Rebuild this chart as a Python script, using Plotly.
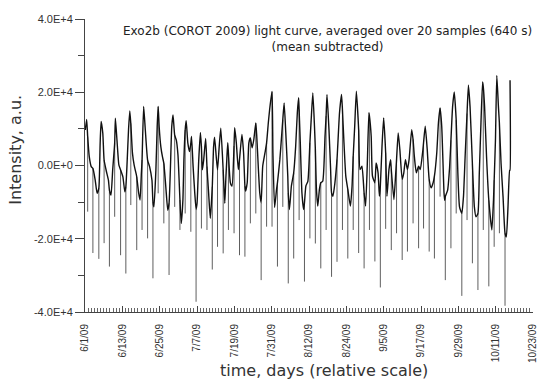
import plotly.graph_objects as go

# ---------------- data ----------------
# time axis: days after 6/1/09 ; intensity values in units of 1e3 (a.u.)
curve_day = [
    0.1, 0.53, 1.37, 2.0, 3.28, 3.9, 4.87, 5.18, 5.72, 6.9, 7.53, 8.36, 8.9, 9.76, 10.27,
    10.9, 12.18, 12.81, 13.57, 13.99, 14.4, 15.26, 15.8, 16.53, 17.27, 17.7, 18.12, 18.85,
    19.39, 20.76, 21.52, 22.16, 22.79, 23.2, 23.84, 24.38, 24.89, 25.97, 26.6, 27.44, 27.88,
    28.29, 29.34, 29.88, 30.94, 31.47, 31.79, 32.52, 33.06, 33.6, 34.24, 34.75, 35.29, 36.02,
    36.56, 37.1, 37.73, 38.15, 38.78, 39.74, 40.28, 41.33, 41.65, 42.18, 43.13, 43.65, 44.93,
    45.3, 45.6, 45.88, 46.73, 47.26, 48.11, 48.64, 49.28, 50.44, 50.97, 51.61, 52.14, 52.67,
    53.73, 54.26, 55.21, 55.74, 56.17, 57.12, 57.86, 58.92, 59.35, 60.4, 60.94, 61.57, 62.63,
    63.27, 64.01, 64.54, 65.18, 65.71, 66.34, 67.72, 68.25, 68.67, 69.2, 69.73, 70.26, 71.0,
    71.64, 72.7, 73.23, 73.76, 74.39, 74.82, 75.35, 76.41, 77.15, 77.79, 78.42, 78.95, 79.69,
    80.33, 81.81, 82.45, 83.19, 83.83, 85.31, 85.84, 86.69, 87.22, 88.39, 89.02, 90.19, 90.72,
    91.25, 91.99, 92.4, 93.57, 94.2, 94.63, 95.47, 96.0, 97.06, 97.7, 98.23, 99.29, 99.82,
    100.67, 101.2, 102.47, 103.0, 104.17, 105.01, 105.86, 106.5, 107.77, 108.51, 109.36,
    110.0, 111.27, 111.9, 113.07, 113.6, 114.66, 115.4, 115.61, 116.56, 117.2, 118.15,
    118.68, 119.85, 120.38, 121.65, 122.18, 123.24, 123.77, 125.15, 125.68, 126.74, 127.27,
    127.8, 128.44, 129.07, 130.77, 131.3, 131.93, 132.36, 132.89, 133.74, 134.37, 135.43,
    135.96, 136.49, 136.6, 136.62,
]
curve_val_k = [
    9.7, 12.6, 2.4, -0.3, -4.0, -7.6, 6.1, 12.0, 8.8, -1.7, -4.0, -8.1, -1.2, 12.9, 7.0,
    0.1, -3.1, -7.2, 1.5, 9.7, 14.9, 3.3, 0.1, -2.6, -7.6, -9.4, -2.1, 16.1,
    9.7, -0.3, -4.0, -11.3, -1.2, 10.6, 10.6, 5.1, 2.4, -5.8, -12.2, -1.2, 10.6,
    13.8, 7.0, 2.9, -15.8, -9.4, 1.5, 12.2, 6.1, 3.8, 7.9, -0.3, -7.6, -10.3,
    1.5, 9.0, -1.2, 1.5, 7.4, -7.6, -14.4, 5.1, 7.7, 2.4, 5.1, 10.2, -10.3,
    -3.0, 2.0, 6.2, -4.7, -5.6, 10.3, 6.2, -1.1, 8.5, 3.5, -7.0, -4.7, 6.2,
    4.8, 7.1, 8.0, -1.1, -7.5, -0.2, 3.5, 11.6, 15.3, 3.5, -11.5, -6.5, 1.6,
    8.9, 17.1, 8.9, -2.9, -12.0, -5.6, 5.3, 14.4, 18.5, 6.2, -7.5, -12.0, -5.6,
    -4.3, 12.5, 19.8, 10.7, -6.5, -11.1, -6.5, -4.3, 8.0, 19.4, 9.8, -1.1, -8.4,
    -4.7, 14.4, 19.4, 7.1, -2.9, -11.1, -5.6, 10.7, 20.3, -1.1, -0.2, -11.1, -0.2,
    14.4, 8.0, -2.9, 0.7, -2.0, -8.4, 5.3, 13.0, -8.4, -1.1, 1.6, -9.3, -2.9,
    8.9, 4.4, -2.0, 1.6, 1.6, 9.8, 2.5, -2.0, -1.1, 3.5, 10.7,
    4.4, -6.1, -4.7, 3.5, 11.6, 10.7, -7.5, -9.5, -6.7, -0.4, 16.0,
    20.1, -2.2, -11.3, -8.5, 2.4, 21.9, 16.0, -11.3, -14.0, -2.2, 11.5,
    22.8, 16.0, 2.4, -17.6, -9.5, 6.9, 24.6, 16.0, 0.5, -8.5, -19.5,
    -11.3, -1.3, -1.3, 23.3,
]

# planetary transits (sharp dips): time, level where the dip starts, bottom of the dip
transit_day = [
    0.86, 2.54, 4.45, 6.14, 7.85, 9.54, 11.44, 13.13, 14.72, 16.63, 18.34, 20.12, 21.84,
    23.52, 25.34, 27.02, 28.83, 30.52, 32.2, 34.02, 35.7, 37.42, 39.2, 40.91, 42.6, 44.41,
    46.1, 47.91, 49.66, 51.4, 53.15, 54.9, 56.62, 58.37, 60.12, 61.86, 63.58, 65.33, 67.08,
    68.82, 70.54, 72.29, 74.04, 75.79, 77.5, 79.25, 81.0, 82.75, 84.47, 86.21, 87.96, 89.71,
    91.43, 93.18, 94.93, 96.64, 98.45, 100.14, 101.95, 103.64, 105.45, 107.23, 108.82,
    110.63, 112.31, 114.13, 115.81, 117.62, 119.31, 121.12, 122.8, 124.52, 126.3, 128.02,
    129.8, 131.52, 133.2, 135.01,
]
transit_top_k = [
    7.9, -0.8, -6.2, 1.5, -6.7, 6.1, -1.2, -5.8, 11.5, -3.1, 1.5, 1.5, -10.0,
    16.1, 0.6, -10.3, 8.3, -9.4, 9.7, 6.1, -12.0, 5.1, -0.3, -5.8, -1.2, -1.2,
    3.5, 5.3, 1.6, -5.6, 7.5, 11.6, -10.2, 6.2, 20.2, -4.7, 12.5, -7.5, -2.0,
    15.3, -10.2, 6.2, 4.4, -4.7, 13.5, -7.5, 1.6, 15.3, -6.5, 2.5, 9.8, -7.5,
    13.5, -4.7, -5.6, 3.5, -1.1, 1.6, -3.8, -1.1, 7.1, -0.2, 6.2,
    -3.8, -2.9, 15.7, -8.5, 6.9, 12.4, -13.1, 14.2, 0.5, -13.1, 21.5,
    -9.5, -4.0, 11.5, -18.5,
]
transit_bottom_k = [
    -12.6, -23.9, -25.5, -21.2, -27.6, -14.0, -24.5, -29.5, -10.8, -23.1, -17.6, -19.9, -30.8,
    -7.6, -15.8, -29.9, -11.3, -17.6, -13.1, -18.1, -37.2, -17.2, -17.6, -28.4, -22.2, -24.0,
    -17.6, -18.5, -24.5, -24.9, -15.8, -13.1, -31.3, -16.7, -16.7, -27.6, -11.3, -32.2, -25.4,
    -14.9, -31.7, -19.9, -21.3, -28.1, -17.6, -30.4, -26.3, -17.6, -25.4, -17.6, -23.9, -28.1,
    -17.6, -26.2, -33.3, -17.3, -23.1, -18.5, -25.8, -23.5, -15.8, -22.6, -17.2,
    -23.5, -25.4, -8.5, -31.3, -22.6, -13.1, -35.6, -14.9, -26.7, -34.0, -17.6,
    -33.0, -22.2, -18.5, -38.3,
]

x_tick_days = [0, 12, 24, 36, 48, 60, 72, 84, 96, 108, 120, 132, 144]
x_tick_labels = ["6/1/09", "6/13/09", "6/25/09", "7/7/09", "7/19/09", "7/31/09", "8/12/09",
                 "8/24/09", "9/5/09", "9/17/09", "9/29/09", "10/11/09", "10/23/09"]
y_tick_vals = [-40000, -20000, 0, 20000, 40000]
y_tick_labels = ["-4.0E+4", "-2.0E+4", "0.0E+0", "2.0E+4", "4.0E+4"]

# ---------------- continuum (curve + the levels where dips start) ----------------
cont = sorted(list(zip(curve_day, curve_val_k)) + list(zip(transit_day, transit_top_k)))
cx = [d for d, _ in cont]
cy = [v * 1000 for _, v in cont]

# ---------------- dips as thin vertical strokes ----------------
tx, ty = [], []
for d, t, b in zip(transit_day, transit_top_k, transit_bottom_k):
    tx += [d, d, None]
    ty += [t * 1000, b * 1000, None]

fig = go.Figure()
fig.add_trace(go.Scatter(x=tx, y=ty, mode="lines",
                         line=dict(color="#5e5e5e", width=1), hoverinfo="skip",
                         showlegend=False))
fig.add_trace(go.Scatter(x=cx, y=cy, mode="lines",
                         line=dict(color="#111111", width=1.4, shape="spline", smoothing=0.5),
                         hoverinfo="skip", showlegend=False))

tick_font = dict(family="Liberation Sans, Arial, sans-serif", size=11, color="#333333")
axis_title_font = dict(family="DejaVu Sans, sans-serif", size=16, color="#333333")

fig.update_layout(
    width=543, height=379,
    margin=dict(l=85, r=5, t=19, b=67),
    paper_bgcolor="white", plot_bgcolor="white",
    showlegend=False,
    xaxis=dict(
        range=[0, 144], tickmode="array", tickvals=x_tick_days, ticktext=x_tick_labels,
        tickangle=-90, tickfont=dict(family="Liberation Sans, Arial, sans-serif", size=10,
                                     color="#333333"),
        ticks="inside", ticklen=6, tickcolor="#444444",
        minor=dict(tickmode="array", tickvals=list(range(0, 145)), ticks="inside",
                   ticklen=4, tickcolor="#666666"),
        showline=True, linecolor="#444444", linewidth=1,
        showgrid=False, zeroline=False,
        ticklabelstandoff=7, ticklabeloverflow="allow",
    ),
    yaxis=dict(
        range=[-40000, 40000], tickmode="array", tickvals=y_tick_vals, ticktext=y_tick_labels,
        tickfont=tick_font, ticks="outside", ticklen=9, tickcolor="#444444",
        minor=dict(tickmode="array", tickvals=[-30000, -10000, 10000, 30000],
                   ticks="outside", ticklen=6, tickcolor="#444444"),
        showline=True, linecolor="#444444", linewidth=1,
        showgrid=False, zeroline=False,
    ),
    annotations=[
        dict(text="Exo2b (COROT 2009) light curve, averaged over 20 samples (640 s)<br>(mean subtracted)",
             xref="paper", yref="paper", x=(121 - 85) / 453, y=0.99, xanchor="left",
             yanchor="top", showarrow=False, align="center",
             font=dict(family="DejaVu Sans, sans-serif", size=12, color="#222222")),
        dict(text="time, days (relative scale)", xref="paper", yref="paper",
             x=(327 - 85) / 453, y=(312 - 370) / 293, xanchor="center", yanchor="middle",
             showarrow=False, font=axis_title_font),
        dict(text="Intensity, a.u.", xref="paper", yref="paper", textangle=-90,
             x=(14 - 85) / 453, y=(312 - 150) / 293, xanchor="center", yanchor="middle",
             showarrow=False, font=axis_title_font),
    ],
)

fig.write_html("out.html", config={"displayModeBar": False},
               post_script="document.body.style.margin='0';document.body.style.overflow='hidden';")
